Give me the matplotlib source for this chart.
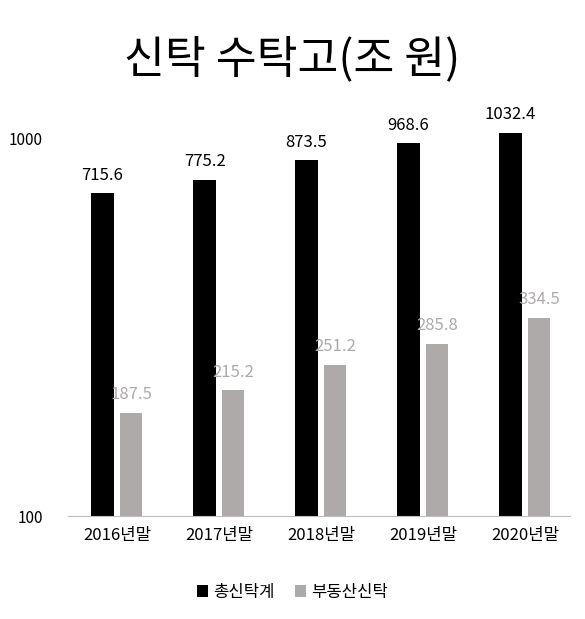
import matplotlib.pyplot as plt
import numpy as np

plt.rcParams['font.family'] = ['Noto Sans CJK KR', 'DejaVu Sans']

years = ['2016년말', '2017년말', '2018년말', '2019년말', '2020년말']
total = [715.6, 775.2, 873.5, 968.6, 1032.4]
realty = [187.5, 215.2, 251.2, 285.8, 334.5]

fig = plt.figure(figsize=(5.85, 6.19), dpi=100)
ax = fig.add_axes([0.116, 0.166, 0.858, 0.636])

x = np.arange(len(years))
w = 0.22
b1 = ax.bar(x - 0.14, total, w, color='black', label='총신탁계')
b2 = ax.bar(x + 0.14, realty, w, color='#aeaaaa', label='부동산신탁')
ax.set_yscale('log')
ax.set_ylim(100, 1100)
ax.set_xlim(-0.48, 4.44)
ax.set_yticks([100, 1000])
ax.set_yticklabels(['100', '1000'], fontsize=11)
ax.minorticks_off()
ax.tick_params(axis='y', length=0, pad=18)
ax.tick_params(axis='x', length=0, pad=8)
ax.set_xticks(x)
ax.set_xticklabels(years, fontsize=12)
for s in ['top', 'right', 'left']:
    ax.spines[s].set_visible(False)
ax.spines['bottom'].set_color('#bfbfbf')

for xi, v in zip(x, total):
    ax.text(xi - 0.14, v * 1.06, f'{v}', ha='center', va='bottom', fontsize=12, color='black')
for xi, v in zip(x, realty):
    ax.text(xi + 0.14, v * 1.06, f'{v}', ha='center', va='bottom', fontsize=12, color='#aeaaaa')

fig.text(0.5, 0.905, '신탁 수탁고(조 원)', ha='center', va='center', fontsize=32)
fig.legend(handles=[b1, b2], loc='center', bbox_to_anchor=(0.5, 0.043), ncol=2,
           frameon=False, fontsize=12, handlelength=0.7, handleheight=0.7, columnspacing=1.2,
           handletextpad=0.3)
fig.savefig('out.png')
